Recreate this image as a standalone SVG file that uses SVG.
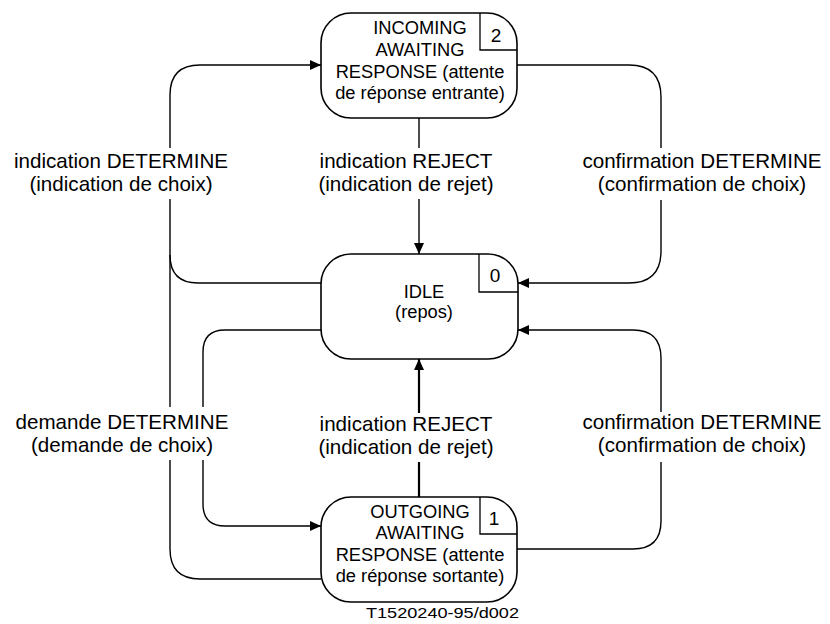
<svg xmlns="http://www.w3.org/2000/svg" width="830" height="624" viewBox="0 0 830 624">
<defs>
<style>
.node{fill:#fff;stroke:#000;stroke-width:1.6}
.sep{fill:none;stroke:#000;stroke-width:1.3}
.nt{font-family:"Liberation Sans",Arial,sans-serif;font-size:18.3px;fill:#000;text-anchor:middle}
.num{font-family:"Liberation Sans",Arial,sans-serif;font-size:19px;fill:#000;text-anchor:middle}
.lbl{font-family:"Liberation Sans",Arial,sans-serif;font-size:20.6px;fill:#000;text-anchor:middle}
.c{fill:none;stroke:#000;stroke-width:1.4}
.cb{fill:none;stroke:#000;stroke-width:2.2}
.ft{font-family:"Liberation Sans",Arial,sans-serif;font-size:14.5px;fill:#000}
</style>
<marker id="ah" markerUnits="userSpaceOnUse" markerWidth="12" markerHeight="10" refX="11" refY="5" orient="auto">
<path d="M0,0 L11,5 L0,10 Z" fill="#000"/>
</marker>
</defs>
<g id="connectors">
<!-- IDLE -> INCOMING (indication DETERMINE) and OUTGOING -> INCOMING -->
<path class="c" d="M321,283 H198 Q170,283 170,255 V199"/>
<path class="c" d="M170,148 V95 Q170,65 200,65 H321" marker-end="url(#ah)"/>
<path class="c" d="M321,579 H200 Q170,579 170,549 V460"/>
<path class="c" d="M170,407 V255"/>
<!-- IDLE -> OUTGOING (demande DETERMINE) -->
<path class="c" d="M321,330 H225 Q203,330 203,352 V407"/>
<path class="c" d="M203,460 V504 Q203,526 225,526 H321" marker-end="url(#ah)"/>
<!-- INCOMING -> IDLE (indication REJECT) -->
<path class="c" d="M419,118 V148"/>
<path class="c" d="M419,199 V254" marker-end="url(#ah)"/>
<!-- INCOMING -> IDLE (confirmation DETERMINE) -->
<path class="c" d="M517,65 H629 Q661,65 661,97 V148"/>
<path class="c" d="M661,200 V251 Q661,283 629,283 H518" marker-end="url(#ah)"/>
<!-- OUTGOING -> IDLE (indication REJECT) -->
<path class="cb" d="M419,497 V462"/>
<path class="cb" d="M419,413 V359" marker-end="url(#ah)"/>
<!-- OUTGOING -> IDLE (confirmation DETERMINE) -->
<path class="c" d="M517,549 H633 Q661,549 661,521 V462"/>
<path class="c" d="M661,412 V358 Q661,330 633,330 H518" marker-end="url(#ah)"/>
</g>
<g id="labels">
<text class="lbl" x="121" y="168">indication DETERMINE</text>
<text class="lbl" x="121" y="191">(indication de choix)</text>
<text class="lbl" x="406" y="168">indication REJECT</text>
<text class="lbl" x="406" y="191">(indication de rejet)</text>
<text class="lbl" x="702" y="168">confirmation DETERMINE</text>
<text class="lbl" x="702" y="191">(confirmation de choix)</text>
<text class="lbl" x="122" y="429">demande DETERMINE</text>
<text class="lbl" x="122" y="452">(demande de choix)</text>
<text class="lbl" x="406" y="431">indication REJECT</text>
<text class="lbl" x="406" y="454">(indication de rejet)</text>
<text class="lbl" x="702" y="429">confirmation DETERMINE</text>
<text class="lbl" x="702" y="452">(confirmation de choix)</text>
</g>
<g id="incoming">
<rect class="node" x="321" y="13" width="196" height="105" rx="30" ry="30"/>
<path class="sep" d="M480,13 V50 H517"/>
<text class="num" x="496" y="42">2</text>
<text class="nt" x="420" y="34">INCOMING</text>
<text class="nt" x="420" y="56">AWAITING</text>
<text class="nt" x="420" y="77.5">RESPONSE (attente</text>
<text class="nt" x="420" y="99">de réponse entrante)</text>
</g>
<g id="idle">
<rect class="node" x="321" y="254" width="197" height="105" rx="30" ry="30"/>
<path class="sep" d="M479,254 V292 H518"/>
<text class="num" x="495" y="282">0</text>
<text class="nt" x="424" y="298">IDLE</text>
<text class="nt" x="424" y="318">(repos)</text>
</g>
<g id="outgoing">
<rect class="node" x="321" y="497" width="196" height="105" rx="30" ry="30"/>
<path class="sep" d="M480,497 V534 H517"/>
<text class="num" x="494" y="525">1</text>
<text class="nt" x="420" y="517.5">OUTGOING</text>
<text class="nt" x="420" y="539">AWAITING</text>
<text class="nt" x="420" y="560.5">RESPONSE (attente</text>
<text class="nt" x="420" y="582">de réponse sortante)</text>
</g>
<text class="ft" x="366" y="618" textLength="153" lengthAdjust="spacingAndGlyphs">T1520240-95/d002</text>
</svg>
